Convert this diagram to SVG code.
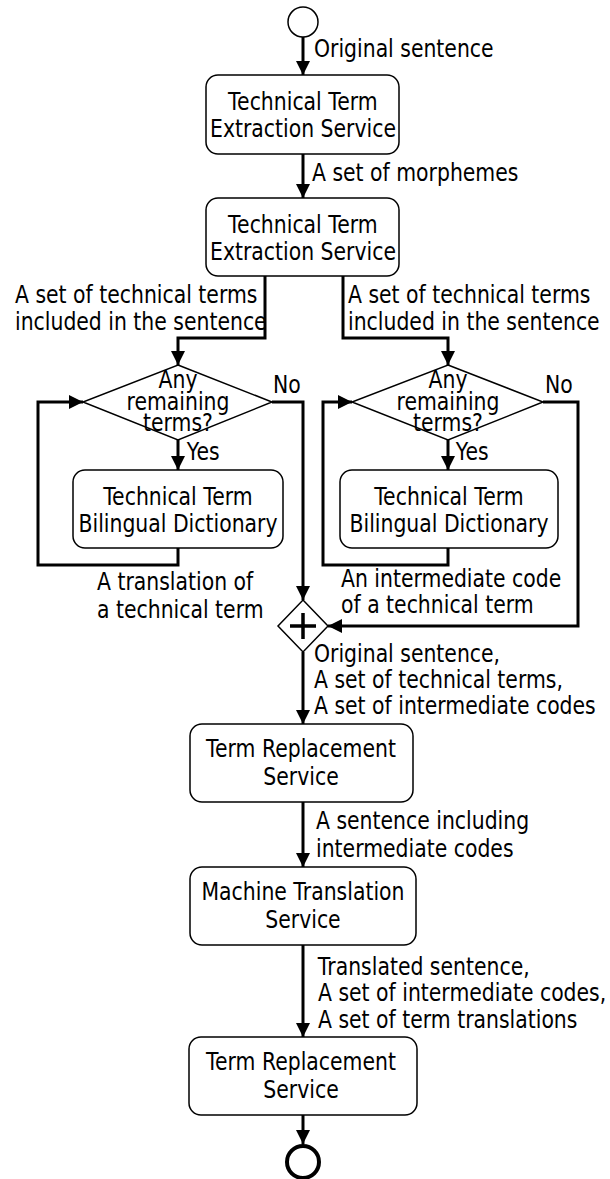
<svg xmlns="http://www.w3.org/2000/svg" width="610" height="1179" viewBox="0 0 610 1179">
<style>
text{font-family:"DejaVu Sans",Verdana,sans-serif;font-size:24px;fill:#000;transform-box:fill-box;transform-origin:left center;transform:scaleX(0.85)}
text.c{text-anchor:middle;transform-origin:center}
.box{fill:#fff;stroke:#000;stroke-width:1.5}
.dia{fill:#fff;stroke:#000;stroke-width:1.5}
.la{fill:none;stroke:#000;stroke-width:3;marker-end:url(#ah)}
</style>
<defs>
<marker id="ah" markerUnits="userSpaceOnUse" markerWidth="14" markerHeight="16" viewBox="0 0 14 16" refX="14" refY="7" orient="auto">
<path d="M0,0 L14,7 L0,14 Z" fill="#000"/>
</marker>
</defs>
<g id="connectors">
<path class="la" d="M303,37 V75"/>
<path class="la" d="M303,154 V198"/>
<path class="la" d="M265,276 V338 H178 V365"/>
<path class="la" d="M343,276 V338 H448 V365"/>
<path class="la" d="M178,440 V470"/>
<path class="la" d="M448,440 V470"/>
<path class="la" d="M178,548 V565 H38 V402 H83"/>
<path class="la" d="M448,548 V565 H323 V402 H352"/>
<path class="la" d="M272,402 H303 V600"/>
<path class="la" d="M543,402 H578 V626 H328"/>
<path class="la" d="M303,652 V724"/>
<path class="la" d="M303,802 V867"/>
<path class="la" d="M303,945 V1037"/>
<path class="la" d="M303,1115 V1144"/>
</g>
<g id="labels">
<text x="314" y="57">Original sentence</text>
<text x="312" y="181">A set of morphemes</text>
<text x="15" y="303">A set of technical terms</text>
<text x="15" y="330">included in the sentence</text>
<text x="348" y="303">A set of technical terms</text>
<text x="348" y="330">included in the sentence</text>
<text x="273" y="393">No</text>
<text x="545" y="393">No</text>
<text x="187" y="460">Yes</text>
<text x="456" y="460">Yes</text>
<text x="97" y="590">A translation of</text>
<text x="97" y="618">a technical term</text>
<text x="341" y="587">An intermediate code</text>
<text x="341" y="613">of a technical term</text>
<text x="314" y="662">Original sentence,</text>
<text x="314" y="688">A set of technical terms,</text>
<text x="314" y="714">A set of intermediate codes</text>
<text x="316" y="829">A sentence including</text>
<text x="316" y="857">intermediate codes</text>
<text x="318" y="975">Translated sentence,</text>
<text x="318" y="1001">A set of intermediate codes,</text>
<text x="318" y="1028">A set of term translations</text>
</g>
<g id="start"><circle cx="303" cy="22" r="15" fill="#fff" stroke="#000" stroke-width="1.5"/></g>
<g id="extract1">
<rect class="box" x="206" y="75" width="193" height="79" rx="12"/>
<text class="c" x="303" y="110">Technical Term</text>
<text class="c" x="303" y="137">Extraction Service</text>
</g>
<g id="extract2">
<rect class="box" x="206" y="198" width="193" height="78" rx="12"/>
<text class="c" x="303" y="233">Technical Term</text>
<text class="c" x="303" y="260">Extraction Service</text>
</g>
<g id="decision-left">
<path class="dia" d="M178,365 L272,402 L178,440 L83,402 Z"/>
<text class="c" x="178" y="388">Any</text>
<text class="c" x="178" y="410">remaining</text>
<text class="c" x="178" y="431">terms?</text>
</g>
<g id="decision-right">
<path class="dia" d="M448,365 L543,402 L448,440 L352,402 Z"/>
<text class="c" x="448" y="388">Any</text>
<text class="c" x="448" y="410">remaining</text>
<text class="c" x="448" y="431">terms?</text>
</g>
<g id="dict-left">
<rect class="box" x="73" y="470" width="210" height="78" rx="12"/>
<text class="c" x="178" y="505">Technical Term</text>
<text class="c" x="178" y="532">Bilingual Dictionary</text>
</g>
<g id="dict-right">
<rect class="box" x="340" y="470" width="218" height="78" rx="12"/>
<text class="c" x="449" y="505">Technical Term</text>
<text class="c" x="449" y="532">Bilingual Dictionary</text>
</g>
<g id="join">
<path class="dia" d="M303,600 L328,626 L303,652 L278,626 Z"/>
<path d="M303,613 V639 M290,626 H316" stroke="#000" stroke-width="3.5" fill="none"/>
</g>
<g id="replace1">
<rect class="box" x="190" y="724" width="223" height="78" rx="12"/>
<text class="c" x="301" y="757">Term Replacement</text>
<text class="c" x="301" y="785">Service</text>
</g>
<g id="mt">
<rect class="box" x="190" y="867" width="226" height="78" rx="12"/>
<text class="c" x="303" y="900">Machine Translation</text>
<text class="c" x="303" y="928">Service</text>
</g>
<g id="replace2">
<rect class="box" x="189" y="1037" width="228" height="78" rx="12"/>
<text class="c" x="301" y="1070">Term Replacement</text>
<text class="c" x="301" y="1098">Service</text>
</g>
<g id="end"><circle cx="303" cy="1162" r="16" fill="#fff" stroke="#000" stroke-width="4"/></g>
</svg>
